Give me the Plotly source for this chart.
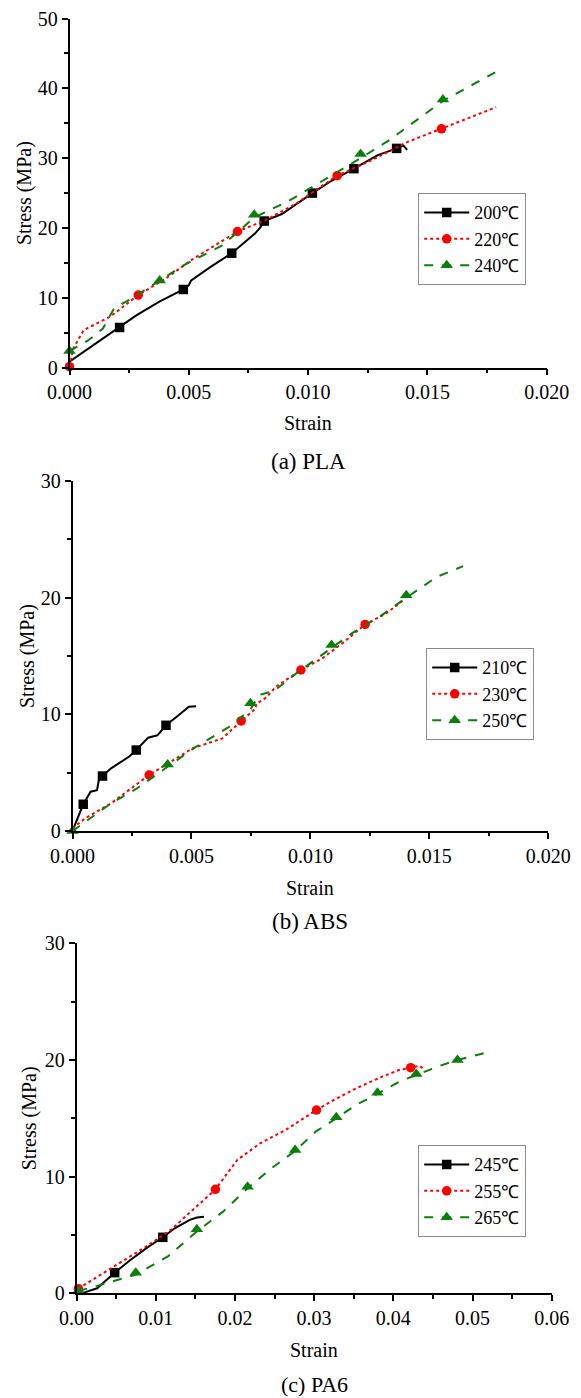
import plotly.graph_objects as go

FONT = "Liberation Serif, Times New Roman, serif"
OFF = 8  # page body margin in the browser (top/left)
W, H = 581 - OFF, 1398 - OFF

# ---------------- (a) PLA ----------------
pla_200_x = [0, 0.0021, 0.0028, 0.00373, 0.00477, 0.0050, 0.0051, 0.0059, 0.0068, 0.00777, 0.0080, 0.00816, 0.0089, 0.01018, 0.0110, 0.01192, 0.0129, 0.01371, 0.0140, 0.01415]
pla_200_y = [0.86, 5.76, 7.5, 9.4, 11.2, 11.8, 12.5, 14.4, 16.4, 19.2, 20.1, 21.0, 22.0, 25.0, 26.8, 28.5, 30.4, 31.4, 31.8, 31.2]
pla_200_mx = [0.0021, 0.00477, 0.0068, 0.00816, 0.01018, 0.01192, 0.01371]
pla_200_my = [5.76, 11.2, 16.4, 21.0, 25.0, 28.5, 31.4]

pla_220_x = [0, 0.00016, 0.0006, 0.0017, 0.00288, 0.0040, 0.0051, 0.0061, 0.00704, 0.0082, 0.0095, 0.01122, 0.0126, 0.01415, 0.01559, 0.01788]
pla_220_y = [0.14, 2.76, 5.4, 7.3, 10.4, 12.7, 15.4, 17.5, 19.5, 21.1, 23.5, 27.5, 29.6, 32.3, 34.2, 37.3]
pla_220_mx = [0, 0.00288, 0.00704, 0.01122, 0.01559]
pla_220_my = [0.14, 10.4, 19.5, 27.5, 34.2]

pla_240_x = [0, 0.00078, 0.0014, 0.00187, 0.0025, 0.00378, 0.0048, 0.0064, 0.00774, 0.0092, 0.0103, 0.0122, 0.01337, 0.01461, 0.01565, 0.01795]
pla_240_y = [2.4, 3.9, 5.6, 8.5, 9.7, 12.5, 14.7, 17.5, 21.5, 23.9, 26.1, 30.0, 32.5, 35.6, 38.2, 42.5]
pla_240_mx = [0, 0.00378, 0.00774, 0.0122, 0.01565]
pla_240_my = [2.4, 12.5, 21.9, 30.6, 38.4]

# ---------------- (b) ABS ----------------
abs_210_x = [0, 0.00045, 0.00076, 0.00103, 0.00112, 0.00126, 0.00162, 0.0024, 0.00268, 0.00318, 0.00357, 0.00393, 0.00442, 0.00489, 0.0052]
abs_210_y = [0, 2.29, 3.37, 3.5, 4.5, 4.71, 5.37, 6.4, 6.94, 8.0, 8.2, 9.06, 9.86, 10.66, 10.7]
abs_210_mx = [0.00045, 0.00126, 0.00268, 0.00393]
abs_210_my = [2.29, 4.71, 6.94, 9.06]

abs_230_x = [0, 0.00053, 0.00162, 0.00322, 0.00505, 0.0063, 0.00709, 0.0077, 0.00773, 0.00816, 0.00855, 0.0096, 0.0105, 0.01143, 0.0123, 0.01315, 0.01393]
abs_230_y = [0.23, 1.09, 2.37, 4.8, 7.09, 7.94, 9.43, 10.5, 10.9, 11.46, 12.37, 13.8, 14.8, 16.23, 17.71, 18.6, 19.8]
abs_230_mx = [0.00322, 0.00709, 0.0096, 0.0123]
abs_230_my = [4.8, 9.43, 13.8, 17.71]

abs_250_x = [0, 0.00053, 0.00162, 0.00271, 0.0040, 0.0052, 0.0066, 0.00748, 0.00785, 0.00847, 0.0094, 0.01089, 0.01174, 0.0130, 0.01403, 0.01533, 0.01642]
abs_250_y = [0, 0.8, 2.37, 3.66, 5.5, 7.23, 8.94, 10.4, 11.66, 12.0, 13.5, 15.7, 16.94, 18.5, 20.0, 21.8, 22.7]
abs_250_mx = [0, 0.0040, 0.00748, 0.01089, 0.01403]
abs_250_my = [0, 5.71, 10.94, 15.94, 20.2]

# ---------------- (c) PA6 ----------------
pa6_245_x = [0, 0.00094, 0.0026, 0.00482, 0.0068, 0.0091, 0.0109, 0.0124, 0.0143, 0.0152, 0.0161]
pa6_245_y = [0, 0.06, 0.43, 1.77, 2.86, 4.0, 4.8, 5.57, 6.29, 6.49, 6.57]
pa6_245_mx = [0.00482, 0.0109]
pa6_245_my = [1.77, 4.8]

pa6_255_x = [0.00023, 0.0044, 0.0091, 0.0119, 0.0152, 0.01754, 0.0203, 0.0232, 0.0264, 0.0303, 0.0325, 0.0353, 0.0386, 0.0407, 0.0422, 0.0433, 0.0437]
pa6_255_y = [0.4, 2.14, 4.14, 5.43, 7.43, 8.91, 11.43, 12.86, 14.0, 15.71, 16.57, 17.57, 18.57, 19.14, 19.34, 19.5, 19.3]
pa6_255_mx = [0.00023, 0.01754, 0.0303, 0.0422]
pa6_255_my = [0.4, 8.91, 15.71, 19.34]

pa6_265_x = [0.00023, 0.0026, 0.00748, 0.0115, 0.0152, 0.0185, 0.0216, 0.0246, 0.0276, 0.0302, 0.0328, 0.0353, 0.0380, 0.0409, 0.0429, 0.0456, 0.0481, 0.0522]
pa6_265_y = [0.2, 0.63, 1.6, 3.14, 5.3, 7.0, 9.0, 10.71, 12.2, 13.86, 15.0, 16.14, 17.1, 18.2, 18.7, 19.43, 20.0, 20.71]
pa6_265_mx = [0.00023, 0.00748, 0.0152, 0.0216, 0.0276, 0.0328, 0.0380, 0.0429, 0.0481]
pa6_265_my = [0.2, 1.77, 5.49, 9.14, 12.29, 15.09, 17.2, 18.8, 20.0]

# labels
labels_a = ["200℃", "220℃", "240℃"]
labels_b = ["210℃", "230℃", "250℃"]
labels_c = ["245℃", "255℃", "265℃"]
captions = ["(a) PLA", "(b) ABS", "(c) PA6"]

STYLES = [
    dict(color="black", dash="solid", symbol="square"),
    dict(color="#ff0000", dash="dot", symbol="circle"),
    dict(color="#0a7f0a", dash="dash", symbol="triangle-up"),
]

fig = go.Figure()

panels = [
    dict(series=[(pla_200_x, pla_200_y, pla_200_mx, pla_200_my),
                 (pla_220_x, pla_220_y, pla_220_mx, pla_220_my),
                 (pla_240_x, pla_240_y, pla_240_mx, pla_240_my)],
         labels=labels_a, xa="x", ya="y", legend="legend"),
    dict(series=[(abs_210_x, abs_210_y, abs_210_mx, abs_210_my),
                 (abs_230_x, abs_230_y, abs_230_mx, abs_230_my),
                 (abs_250_x, abs_250_y, abs_250_mx, abs_250_my)],
         labels=labels_b, xa="x2", ya="y2", legend="legend2"),
    dict(series=[(pa6_245_x, pa6_245_y, pa6_245_mx, pa6_245_my),
                 (pa6_255_x, pa6_255_y, pa6_255_mx, pa6_255_my),
                 (pa6_265_x, pa6_265_y, pa6_265_mx, pa6_265_my)],
         labels=labels_c, xa="x3", ya="y3", legend="legend3"),
]

for p in panels:
    for (lx, ly, mx, my), lab, st in zip(p["series"], p["labels"], STYLES):
        msize = 11 if st["symbol"] == "triangle-up" else 9.5
        fig.add_trace(go.Scatter(x=lx, y=ly, mode="lines", xaxis=p["xa"], yaxis=p["ya"],
                                 line=dict(color=st["color"], dash=st["dash"], width=2),
                                 showlegend=False, cliponaxis=False, hoverinfo="skip"))
        fig.add_trace(go.Scatter(x=mx, y=my, mode="markers", xaxis=p["xa"], yaxis=p["ya"],
                                 marker=dict(color=st["color"], symbol=st["symbol"], size=msize),
                                 showlegend=False, cliponaxis=False))
        fig.add_trace(go.Scatter(x=[None], y=[None], mode="lines+markers", name=lab,
                                 xaxis=p["xa"], yaxis=p["ya"], legend=p["legend"],
                                 line=dict(color=st["color"], dash=st["dash"], width=2),
                                 marker=dict(color=st["color"], symbol=st["symbol"], size=msize)))

def px2x(px):
    return (px - OFF) / W

def py2y(py):
    return 1 - (py - OFF) / H

axis_common = dict(showline=True, linecolor="black", linewidth=1.5, ticks="outside",
                   ticklen=6, tickwidth=1.5, tickcolor="black", showgrid=False, zeroline=False,
                   mirror=False, automargin=False, ticklabeloverflow="allow",
                   tickfont=dict(family=FONT, size=20, color="black"))

# axis pixel boxes in screenshot pixels: (left, right, top, bottom)
boxes = [(69.5, 546.7, 18.5, 367.7), (72.5, 548.3, 481.0, 831.0), (76.5, 551.7, 943.3, 1293.3)]
xranges = [[0, 0.020], [0, 0.020], [0, 0.06]]
yranges = [[0, 50], [0, 30], [0, 30]]
xd = [0.005, 0.005, 0.01]
xfmt = [".3f", ".3f", ".2f"]

layout = dict(width=W, height=H, autosize=False, margin=dict(l=0, r=0, t=0, b=0, pad=0),
              paper_bgcolor="white", plot_bgcolor="white", font=dict(family=FONT, color="black"))

for i, (l, r, t, b) in enumerate(boxes):
    sfx = "" if i == 0 else str(i + 1)
    layout["xaxis" + sfx] = dict(axis_common, domain=[px2x(l), px2x(r)], range=xranges[i],
                                 dtick=xd[i], tick0=0, tickformat=xfmt[i],
                                 anchor="y" + sfx,
                                 minor=dict(ticks="outside", ticklen=3.5, tickwidth=1.5, tickcolor="black", dtick=xd[i] / 2))
    layout["yaxis" + sfx] = dict(axis_common, domain=[py2y(b), py2y(t)], range=yranges[i],
                                 dtick=10, tick0=0, anchor="x" + sfx,
                                 minor=dict(ticks="outside", ticklen=3.5, tickwidth=1.5, tickcolor="black", dtick=5))

legend_pos = [(418, 193), (426, 648), (418, 1145)]
for i, (lx, ly) in enumerate(legend_pos):
    key = "legend" if i == 0 else "legend" + str(i + 1)
    layout[key] = dict(x=px2x(lx), y=py2y(ly), xanchor="left", yanchor="top",
                       bgcolor="white", bordercolor="#8a8a8a", borderwidth=1.2,
                       font=dict(family=FONT, size=18, color="black"), itemwidth=45,
                       tracegroupgap=0)

annotations = []
strain_y = [423, 888, 1350]
cap_y = [461, 921, 1384]
cap_size = [23, 23, 22]
ytitle_x = [24, 27, 29]
for i, (l, r, t, b) in enumerate(boxes):
    cx = (l + r) / 2
    annotations.append(dict(text="Strain", x=px2x(cx), y=py2y(strain_y[i]), xref="paper", yref="paper",
                            showarrow=False, xanchor="center", yanchor="middle",
                            font=dict(family=FONT, size=20, color="black")))
    annotations.append(dict(text=captions[i], x=px2x(cx), y=py2y(cap_y[i]), xref="paper", yref="paper",
                            showarrow=False, xanchor="center", yanchor="middle",
                            font=dict(family=FONT, size=cap_size[i], color="black")))
    annotations.append(dict(text="Stress (MPa)", x=px2x(ytitle_x[i]), y=py2y((t + b) / 2),
                            xref="paper", yref="paper", textangle=-90,
                            showarrow=False, xanchor="center", yanchor="middle",
                            font=dict(family=FONT, size=20, color="black")))
layout["annotations"] = annotations

fig.update_layout(**layout)
fig.write_html("out.html")
